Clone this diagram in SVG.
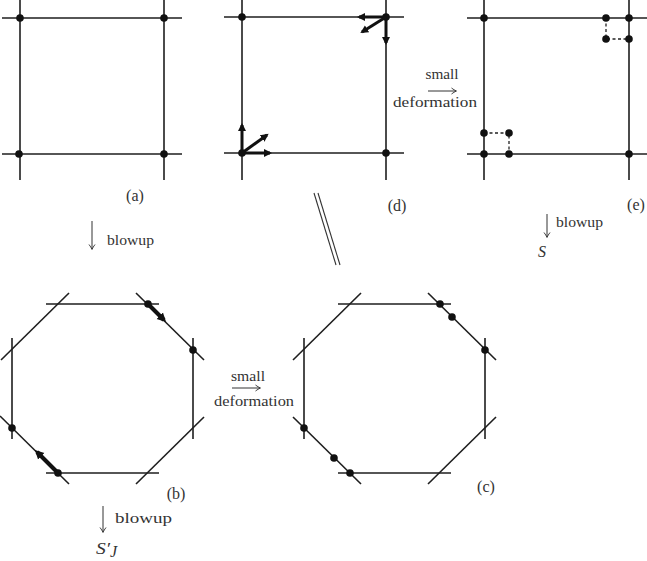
<svg xmlns="http://www.w3.org/2000/svg" width="647" height="561" viewBox="0 0 647 561">
<defs>
<style>
.ln{stroke:#1e1e1e;stroke-width:1.6;fill:none}
.thin{stroke:#333;stroke-width:1.1;fill:none}
.dot{fill:#111}
.dash{stroke:#222;stroke-width:1.3;stroke-dasharray:3,2.5;fill:none}
.thk{stroke:#111;stroke-width:3;fill:none;marker-end:url(#ah)}
.thk2{stroke:#111;stroke-width:4;fill:none;marker-end:url(#ah2)}
.lbl{font-size:16px;fill:#333}
.txt{font-size:15px;fill:#333}
.it{font-style:italic;font-size:16px;fill:#333}
.arr{stroke:#333;stroke-width:1;fill:none;marker-end:url(#oh)}
</style>
<marker id="ah" markerUnits="userSpaceOnUse" markerWidth="9" markerHeight="9" refX="6" refY="4.5" orient="auto">
<path d="M0,0.5 L8,4.5 L0,8.5 z" fill="#111"/>
</marker>
<marker id="ah2" markerUnits="userSpaceOnUse" markerWidth="10" markerHeight="10" refX="6" refY="5" orient="auto">
<path d="M0,0.5 L9,5 L0,9.5 z" fill="#111"/>
</marker>
<marker id="oh" markerUnits="userSpaceOnUse" markerWidth="8" markerHeight="8" refX="5" refY="4" orient="auto">
<path d="M0.5,1 Q3,3 5.5,4 Q3,5 0.5,7" stroke="#333" stroke-width="0.9" fill="none"/>
</marker>
</defs>
<rect width="647" height="561" fill="#fff"/>

<g font-family="'Liberation Serif', 'DejaVu Serif', 'Times New Roman', serif">
<g id="panel-a">
<line class="ln" x1="20" y1="0" x2="20" y2="180"/>
<line class="ln" x1="164" y1="0" x2="164" y2="180"/>
<line class="ln" x1="2" y1="18" x2="182" y2="18"/>
<line class="ln" x1="2" y1="154" x2="182" y2="154"/>
<circle class="dot" cx="20" cy="18" r="3.8"/>
<circle class="dot" cx="164" cy="18" r="3.8"/>
<circle class="dot" cx="19" cy="154" r="3.8"/>
<circle class="dot" cx="164" cy="154" r="3.8"/>
<text class="lbl" x="135" y="201" text-anchor="middle">(a)</text>
</g>

<g id="panel-d">
<line class="ln" x1="242" y1="0" x2="242" y2="180"/>
<line class="ln" x1="386" y1="0" x2="386" y2="180"/>
<line class="ln" x1="224" y1="17" x2="404" y2="17"/>
<line class="ln" x1="224" y1="153" x2="404" y2="153"/>
<circle class="dot" cx="242" cy="17" r="3.8"/>
<circle class="dot" cx="386" cy="17" r="3.8"/>
<circle class="dot" cx="242" cy="153" r="3.8"/>
<circle class="dot" cx="386" cy="153" r="3.8"/>
<line class="thk" x1="386" y1="17" x2="359" y2="17"/>
<line class="thk" x1="386" y1="17" x2="386" y2="43"/>
<line class="thk" x1="386" y1="17" x2="362" y2="32"/>
<line class="thk" x1="242" y1="153" x2="242" y2="125"/>
<line class="thk" x1="242" y1="153" x2="270" y2="153"/>
<line class="thk" x1="242" y1="153" x2="267" y2="135"/>
<text class="lbl" x="397" y="211" text-anchor="middle">(d)</text>
</g>

<g id="panel-e">
<line class="ln" x1="484" y1="0" x2="484" y2="180"/>
<line class="ln" x1="629" y1="0" x2="629" y2="180"/>
<line class="ln" x1="467" y1="18" x2="647" y2="18"/>
<line class="ln" x1="467" y1="154" x2="647" y2="154"/>
<path class="dash" d="M606,18 V39 H629"/>
<path class="dash" d="M484,133 H509 V154"/>
<circle class="dot" cx="484" cy="18" r="3.8"/>
<circle class="dot" cx="606" cy="18" r="3.8"/>
<circle class="dot" cx="629" cy="18" r="3.8"/>
<circle class="dot" cx="606" cy="39" r="3.8"/>
<circle class="dot" cx="629" cy="39" r="3.8"/>
<circle class="dot" cx="484" cy="133" r="3.8"/>
<circle class="dot" cx="509" cy="133" r="3.8"/>
<circle class="dot" cx="484" cy="154" r="3.8"/>
<circle class="dot" cx="509" cy="154" r="3.8"/>
<circle class="dot" cx="629" cy="154" r="3.8"/>
<text class="lbl" x="636" y="210" text-anchor="middle">(e)</text>
</g>

<g id="panel-b">
<line class="ln" x1="46" y1="304" x2="159" y2="304"/>
<line class="ln" x1="46" y1="473" x2="159" y2="473"/>
<line class="ln" x1="12" y1="338" x2="12" y2="439"/>
<line class="ln" x1="193" y1="338" x2="193" y2="439"/>
<line class="ln" x1="1" y1="360" x2="69" y2="293"/>
<line class="ln" x1="136" y1="293" x2="204" y2="360"/>
<line class="ln" x1="0" y1="416" x2="69" y2="484"/>
<line class="ln" x1="136" y1="484" x2="204" y2="417"/>
<line class="thk2" x1="148" y1="304" x2="164" y2="320"/>
<line class="thk2" x1="58" y1="473" x2="37" y2="452"/>
<circle class="dot" cx="148" cy="304" r="3.8"/>
<circle class="dot" cx="193" cy="350" r="3.8"/>
<circle class="dot" cx="12" cy="428" r="3.8"/>
<circle class="dot" cx="58" cy="473" r="3.8"/>
<text class="lbl" x="176" y="499" text-anchor="middle">(b)</text>
</g>

<g id="panel-c">
<line class="ln" x1="338" y1="304" x2="451" y2="304"/>
<line class="ln" x1="338" y1="473" x2="451" y2="473"/>
<line class="ln" x1="304" y1="338" x2="304" y2="439"/>
<line class="ln" x1="485" y1="338" x2="485" y2="439"/>
<line class="ln" x1="293" y1="360" x2="361" y2="293"/>
<line class="ln" x1="428" y1="293" x2="496" y2="360"/>
<line class="ln" x1="293" y1="417" x2="361" y2="484"/>
<line class="ln" x1="428" y1="484" x2="496" y2="417"/>
<circle class="dot" cx="440" cy="304" r="3.8"/>
<circle class="dot" cx="452" cy="317" r="3.8"/>
<circle class="dot" cx="485" cy="350" r="3.8"/>
<circle class="dot" cx="304" cy="428" r="3.8"/>
<circle class="dot" cx="334" cy="458" r="3.8"/>
<circle class="dot" cx="350" cy="473" r="3.8"/>
<text class="lbl" x="486" y="492" text-anchor="middle">(c)</text>
</g>

<g id="connectors">
<g id="deform-top">
<text class="txt" x="442" y="79" text-anchor="middle" textLength="33" lengthAdjust="spacingAndGlyphs">small</text>
<line class="arr" x1="428" y1="91" x2="456" y2="91"/>
<text class="txt" x="435" y="107" text-anchor="middle" textLength="84" lengthAdjust="spacingAndGlyphs">deformation</text>
</g>
<g id="deform-mid">
<text class="txt" x="248" y="381" text-anchor="middle" textLength="34" lengthAdjust="spacingAndGlyphs">small</text>
<line class="arr" x1="232" y1="388" x2="260" y2="388"/>
<text class="txt" x="254" y="406" text-anchor="middle" textLength="80" lengthAdjust="spacingAndGlyphs">deformation</text>
</g>
<g id="blowup-a">
<line class="arr" x1="92" y1="221" x2="92" y2="249"/>
<text class="txt" x="107" y="245" textLength="47" lengthAdjust="spacingAndGlyphs">blowup</text>
</g>
<g id="blowup-e">
<line class="arr" x1="547" y1="214" x2="547" y2="237"/>
<text class="txt" x="556" y="227" textLength="47" lengthAdjust="spacingAndGlyphs">blowup</text>
<text class="it" x="538" y="257">S</text>
</g>
<g id="blowup-b">
<line class="arr" x1="103" y1="506" x2="103" y2="532"/>
<text class="txt" x="115" y="523" textLength="57" lengthAdjust="spacingAndGlyphs">blowup</text>
<text class="it" x="96" y="554" textLength="14" lengthAdjust="spacingAndGlyphs">S′</text>
<text class="it" x="110" y="557" font-size="10">J</text>
</g>
<g id="equal">
<line class="thin" x1="314" y1="193" x2="336" y2="265"/>
<line class="thin" x1="318" y1="193" x2="340" y2="265"/>
</g>
</g>
</g>
</svg>
